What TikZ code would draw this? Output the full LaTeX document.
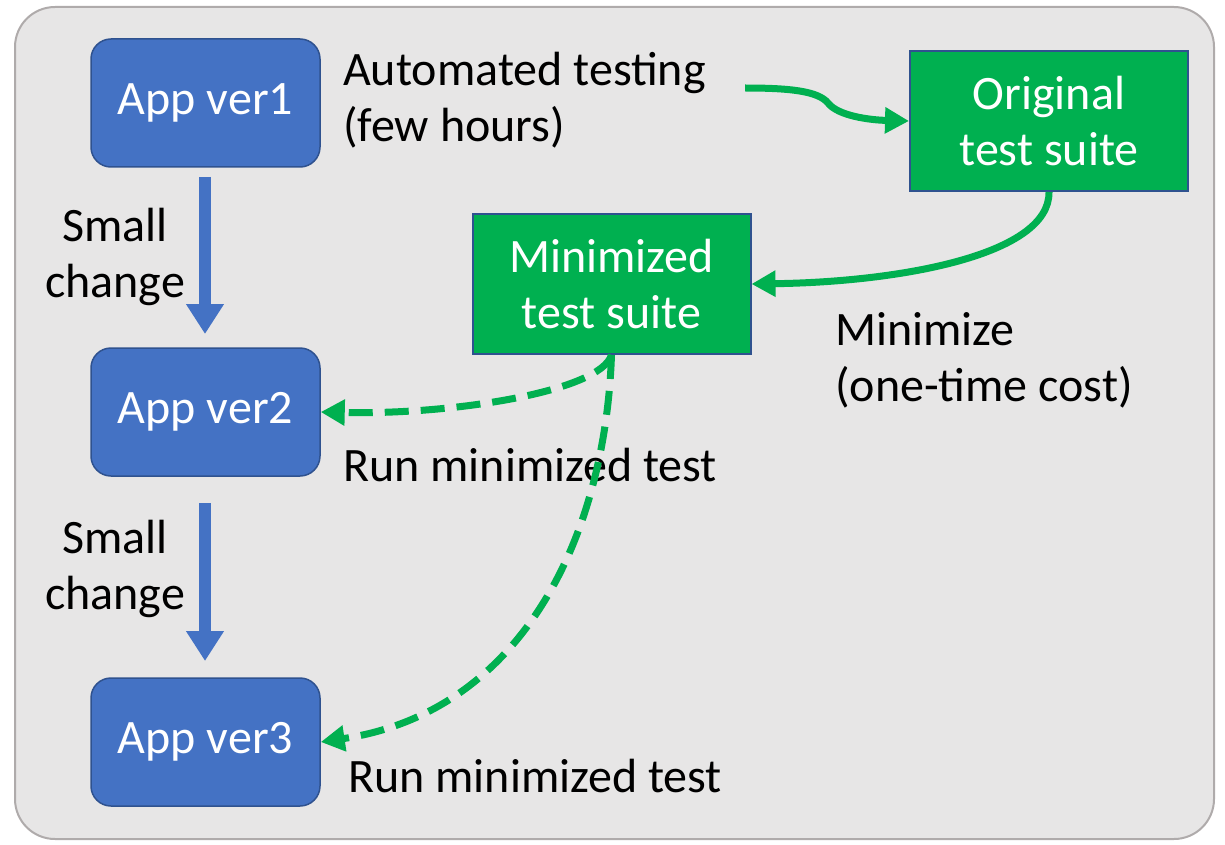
\documentclass[tikz,border=0pt]{standalone}
\usepackage{fontspec}
\setmainfont{Carlito}
\usetikzlibrary{arrows.meta}
\definecolor{bgfill}{HTML}{E7E6E6}
\definecolor{bgdraw}{HTML}{AFABAB}
\definecolor{appblue}{HTML}{4472C4}
\definecolor{appedge}{HTML}{2F528F}
\definecolor{tgreen}{HTML}{00B050}
\tikzset{
  appbox/.style={draw=appedge, line width=1.5pt, fill=appblue, rounded corners=20pt, minimum width=229pt, minimum height=128pt, inner sep=0pt, text=white, font=\fontsize{48}{56}\selectfont},
  suitebox/.style={draw=appedge, line width=2pt, fill=tgreen, minimum width=278pt, minimum height=140pt, inner sep=0pt, text=white, align=center, font=\fontsize{48}{56}\selectfont},
  lbl/.style={text=black, align=left, inner sep=0pt, font=\fontsize{48}{56}\selectfont},
  blarrow/.style={draw=appblue, line width=12pt, -{Triangle[length=30pt,width=36pt]}},
  grarrow/.style={draw=tgreen, line width=7pt, -{Triangle[length=24pt,width=25pt]}},
  grdash/.style={grarrow, dash pattern=on 24pt off 12pt},
}
\begin{document}
\begin{tikzpicture}[x=1pt,y=-1pt]
\useasboundingbox (0,0) rectangle (1225,845);
\draw[draw=bgdraw, line width=2pt, fill=bgfill, rounded corners=40pt] (15,7) rectangle (1214,839);
\node[appbox] (v1) at (205.5,103) {App ver1};
\node[appbox] (v2) at (205.5,412) {App ver2};
\node[appbox] (v3) at (205.5,742) {App ver3};
\node[suitebox] (orig) at (1049,121) {Original\\test suite};
\node[suitebox] (mini) at (611.5,284) {Minimized\\test suite};
\coordinate (a1s) at (205,177);
\coordinate (a1e) at (205,334);
\coordinate (a2s) at (205,503);
\coordinate (a2e) at (205,661);
\draw[blarrow] (a1s) -- (a1e);
\draw[blarrow] (a2s) -- (a2e);
\node[lbl, align=center] (sc1) at (115,257) {Small\\change};
\node[lbl, align=center] (sc2) at (115,569) {Small\\change};
\node[lbl, anchor=west] (auto) at (343,100) {Automated testing\\(few hours)};
\node[lbl, anchor=west] (minl) at (835,360) {Minimize\\(one-time cost)};
\node[lbl, anchor=west] (run1) at (343,465) {Run minimized test};
\node[lbl, anchor=west] (run2) at (348,776) {Run minimized test};
\coordinate (autos) at (745,88);
\coordinate (autom) at (828,103);
\draw[grarrow] (autos) .. controls (790,88) and (818,91) .. (autom) .. controls (838,116) and (870,120) .. (orig.west);
\draw[grarrow] (orig.south) .. controls (1050,255) and (900,282) .. (mini.east);
\draw[grdash] (mini.south) .. controls (600,392) and (450,415) .. (v2.east);
\draw[grdash] (mini.south) .. controls (605,540) and (520,712) .. (v3.east);
\end{tikzpicture}
\end{document}
